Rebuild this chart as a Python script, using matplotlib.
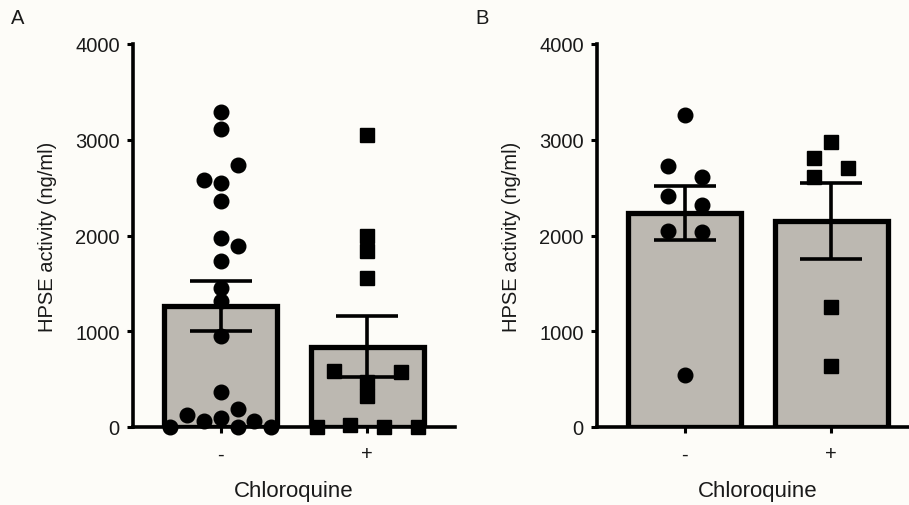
import matplotlib
matplotlib.use("Agg")
import matplotlib.pyplot as plt
import numpy as np

plt.rcParams['font.family'] = ['Liberation Sans', 'DejaVu Sans']

# ---- data ----
categories = ['-', '+']
yticks = [0, 1000, 2000, 3000, 4000]
ylabel = 'HPSE activity (ng/ml)'
xlabel = 'Chloroquine'

# Panel A
a_minus = [3290, 3112, 2736, 2583, 2545, 2357, 1974, 1894, 1731, 1448, 1319,
           947, 362, 188, 128, 66, 94, 0, 0, 66, 0]
a_minus_slot = [0, 0, 1, -1, 0, 0, 0, 1, 0, 0, 0, 0, 0, 1, -2, -1, 0, -3, 1, 2, 3]
a_plus = [3050, 1992, 1841, 1553, 588, 571, 467, 321, 0, 21, 0, 0]
a_plus_slot = [0, 0, 0, 0, -2, 2, 0, 0, -3, -1, 1, 3]
a_means = [1260, 840]
a_sems = [260, 320]

# Panel B
b_minus = [3258, 2723, 2608, 2416, 2322, 2050, 2033, 543]
b_minus_slot = [0, -1, 1, -1, 1, -1, 1, 0]
b_plus = [2973, 2806, 2702, 2608, 1250, 634]
b_plus_slot = [0, -1, 1, -1, 0, 0]
b_means = [2235, 2150]
b_sems = [280, 395]

# ---- style ----
BG = '#fdfcf8'
BAR = '#bcb8b1'
W, H = 909, 506
DPI = 100
SLOT = 0.115

fig = plt.figure(figsize=(W / DPI, H / DPI), dpi=DPI, facecolor=BG)

def panel(rect, letter, letter_xy, minus, minus_slot, plus, plus_slot, means, sems):
    ax = fig.add_axes(rect)
    ax.set_facecolor(BG)
    ax.patch.set_alpha(0)
    x = np.arange(len(categories))
    ax.bar(x, means, width=0.77, color=BAR, edgecolor='black', linewidth=3.8, zorder=2)
    ax.errorbar(x, means, yerr=sems, fmt='none', ecolor='black', elinewidth=2.6,
                capsize=22, capthick=2.6, zorder=3)
    ax.plot(x[0] + np.array(minus_slot) * SLOT, minus, 'o', color='black',
            markersize=10.5, zorder=4, clip_on=False)
    ax.plot(x[1] + np.array(plus_slot) * SLOT, plus, 's', color='black',
            markersize=10.5, zorder=4, clip_on=False)
    ax.set_xlim(-0.6, 1.6)
    ax.set_ylim(0, 4000)
    ax.set_yticks(yticks)
    ax.set_yticklabels([str(t) for t in yticks])
    ax.set_xticks(x)
    ax.set_xticklabels(categories)
    for s in ['top', 'right']:
        ax.spines[s].set_visible(False)
    for s in ['left', 'bottom']:
        ax.spines[s].set_linewidth(2.6)
        ax.spines[s].set_zorder(1)
    ax.tick_params(axis='both', width=2.2, length=4.5, labelsize=14.5, pad=5,
                   colors='black', labelcolor='#1a1a1a')
    ax.tick_params(axis='x', pad=8)
    ax.set_ylabel(ylabel, fontsize=14.5, labelpad=13, color='#1a1a1a')
    ax.set_xlabel(xlabel, fontsize=16, labelpad=12, color='#1a1a1a')
    fig.text(letter_xy[0] / W, 1 - letter_xy[1] / H, letter, fontsize=14.5,
             ha='left', va='top', color='#1a1a1a')
    return ax

bottom = (H - 428) / H
height = (428 - 45) / H
width = 322 / W

panel([133 / W, bottom, width, height], 'A', (11, 9),
      a_minus, a_minus_slot, a_plus, a_plus_slot, a_means, a_sems)
panel([597 / W, bottom, width, height], 'B', (475, 9),
      b_minus, b_minus_slot, b_plus, b_plus_slot, b_means, b_sems)

fig.savefig('out.png', dpi=DPI, facecolor=BG)
